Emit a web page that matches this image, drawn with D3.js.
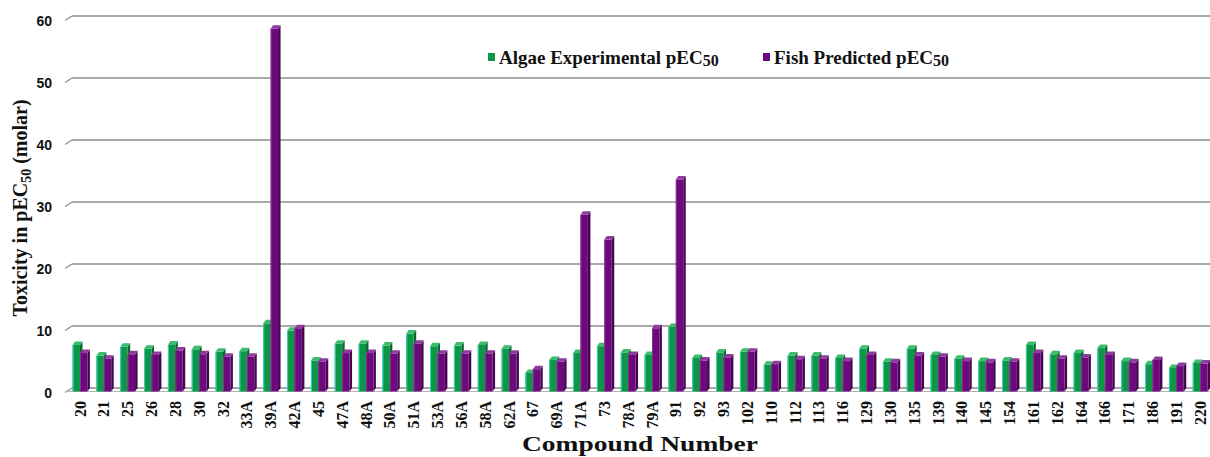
<!DOCTYPE html>
<html>
<head>
<meta charset="utf-8">
<script src="https://cdn.jsdelivr.net/npm/d3@7"></script>
<style>
  html, body { margin: 0; padding: 0; background: #ffffff; }
  svg { display: block; }
</style>
</head>
<body>
<svg id="chart" width="1210" height="457"></svg>
<script>
// Compound identifiers along the horizontal axis
const compounds = ["20","21","25","26","28","30","32","33A","39A","42A","45","47A","48A","50A","51A","53A","56A","58A","62A","67","69A","71A","73","78A","79A","91","92","93","102","110","112","113","116","129","130","135","139","140","145","154","161","162","164","166","171","186","191","220"];

// Algae experimental pEC50
const algae = [7.5,5.8,7.2,6.9,7.6,6.8,6.4,6.5,11.0,9.8,5.0,7.7,7.7,7.4,9.35,7.3,7.4,7.5,6.9,3.0,5.1,6.2,7.3,6.3,5.9,10.4,5.4,6.3,6.4,4.3,5.8,5.8,5.4,6.9,4.8,6.9,5.9,5.3,4.9,5.0,7.5,6.0,6.2,7.0,4.9,4.4,3.8,4.6];

// Fish predicted pEC50
const fish = [6.2,5.3,6.0,5.9,6.6,6.0,5.6,5.6,58.5,10.2,4.8,6.2,6.2,6.1,7.7,6.1,6.1,6.1,6.1,3.6,4.8,28.5,24.5,5.9,10.2,34.2,5.0,5.5,6.4,4.4,5.2,5.3,4.9,5.9,4.7,5.8,5.6,4.9,4.7,4.8,6.2,5.3,5.5,5.9,4.7,5.1,4.1,4.5];

const yTicks = [0,10,20,30,40,50,60];

const seriesNames = ["Algae Experimental pEC", "Fish Predicted pEC"];

const svg = d3.select("#chart");

const wallLeft = 72;   // back wall left edge
const frontLeft = 65;  // front edge of the floor / grid
const depthX = 2.5, depthY = 3.5;

const x = d3.scaleBand().domain(compounds).range([67, 1211]).paddingInner(0).paddingOuter(0);
const y = d3.scaleLinear().domain([0, 60]).range([388, 16]);

const gridColor = "#8d8d8d";

// Back-wall gridlines with a short perspective stub on the left
const grid = svg.append("g");
yTicks.forEach(t => {
  grid.append("line")
    .attr("x1", wallLeft).attr("x2", 1210)
    .attr("y1", y(t)).attr("y2", y(t))
    .attr("stroke", gridColor).attr("stroke-width", 1.4);
  grid.append("line")
    .attr("x1", frontLeft).attr("y1", y(t) + depthY + 1)
    .attr("x2", wallLeft).attr("y2", y(t))
    .attr("stroke", gridColor).attr("stroke-width", 1.2);
});
// Front edge of the floor
grid.append("line")
  .attr("x1", frontLeft).attr("x2", 1210)
  .attr("y1", y(0) + depthY).attr("y2", y(0) + depthY)
  .attr("stroke", "#b4b4b4").attr("stroke-width", 1.2);

// Y tick labels
const yAxis = d3.axisLeft(y).tickValues(yTicks).tickSize(0).tickPadding(0);
const yg = svg.append("g").attr("transform", "translate(52,5)").call(yAxis);
yg.select(".domain").remove();
yg.selectAll("text")
  .attr("font-family", "Liberation Sans, Arial, sans-serif")
  .attr("font-weight", "bold")
  .attr("font-size", 14)
  .attr("fill", "#111");

// X tick labels, rotated
const xAxis = d3.axisBottom(x).tickSize(0).tickPadding(0);
const xg = svg.append("g").attr("transform", "translate(1,401)").call(xAxis);
xg.select(".domain").remove();
xg.selectAll("text")
  .attr("font-family", "Liberation Serif, 'Times New Roman', serif")
  .attr("font-weight", "bold")
  .attr("font-size", 16)
  .attr("fill", "#111")
  .attr("text-anchor", "end")
  .attr("dy", "0.35em")
  .attr("transform", "rotate(-90)")
  .attr("x", 0).attr("y", 0);

// 3D-style columns
const palettes = [
  { front: "#0c9646", side: "#08672f", top: "#3cbd6c", edge: "#3fd3bf" },
  { front: "#6c0a7c", side: "#470454", top: "#8f3a9e", edge: "#8a2f9a" }
];
const barW = 7.4;
const groupOffset = 5.6;

function drawBar(g, x0, v, pal) {
  const yTopFront = y(v) + depthY;
  const yBottom = y(0) + depthY;
  // side face
  g.append("path")
    .attr("d", `M${x0 + barW},${yTopFront} L${x0 + barW + depthX},${yTopFront - depthY} L${x0 + barW + depthX},${yBottom - depthY} L${x0 + barW},${yBottom} Z`)
    .attr("fill", pal.side);
  // front face
  g.append("rect")
    .attr("x", x0).attr("y", yTopFront)
    .attr("width", barW).attr("height", yBottom - yTopFront)
    .attr("fill", pal.front);
  // top face
  g.append("path")
    .attr("d", `M${x0},${yTopFront} L${x0 + depthX},${yTopFront - depthY} L${x0 + barW + depthX},${yTopFront - depthY} L${x0 + barW},${yTopFront} Z`)
    .attr("fill", pal.top);
  // left highlight edge
  g.append("line")
    .attr("x1", x0 + 0.5).attr("x2", x0 + 0.5)
    .attr("y1", yTopFront).attr("y2", yBottom)
    .attr("stroke", pal.edge).attr("stroke-width", 1);
}

const bars = svg.append("g");
compounds.forEach((c, i) => {
  const bx = x(c) + groupOffset;
  drawBar(bars, bx, algae[i], palettes[0]);
  drawBar(bars, bx + barW, fish[i], palettes[1]);
});

// Legend
const legend = svg.append("g");
const legendItems = [
  { name: seriesNames[0], color: palettes[0].front, x: 488 },
  { name: seriesNames[1], color: palettes[1].front, x: 763 }
];
legendItems.forEach(item => {
  legend.append("rect")
    .attr("x", item.x).attr("y", 53)
    .attr("width", 7).attr("height", 8)
    .attr("fill", item.color);
  const t = legend.append("text")
    .attr("x", item.x + 11).attr("y", 64)
    .attr("font-family", "Liberation Serif, 'Times New Roman', serif")
    .attr("font-weight", "bold")
    .attr("font-size", 19)
    .attr("fill", "#111");
  t.append("tspan").text(item.name);
  t.append("tspan").attr("font-size", 16).attr("dy", 2).text("50");
});

// Axis titles
svg.append("text")
  .attr("x", 640).attr("y", 451)
  .attr("text-anchor", "middle")
  .attr("font-family", "Liberation Serif, 'Times New Roman', serif")
  .attr("font-weight", "bold")
  .attr("font-size", 20)
  .attr("textLength", 236)
  .attr("lengthAdjust", "spacingAndGlyphs")
  .attr("fill", "#111")
  .text("Compound Number");

const yTitle = svg.append("text")
  .attr("transform", "translate(27,208) rotate(-90)")
  .attr("text-anchor", "middle")
  .attr("font-family", "Liberation Serif, 'Times New Roman', serif")
  .attr("font-weight", "bold")
  .attr("font-size", 20)
  .attr("fill", "#111");
yTitle.append("tspan").text("Toxicity in pEC");
yTitle.append("tspan").attr("font-size", 14).attr("dy", 4).text("50");
yTitle.append("tspan").attr("dy", -4).text(" (molar)");
</script>
</body>
</html>
